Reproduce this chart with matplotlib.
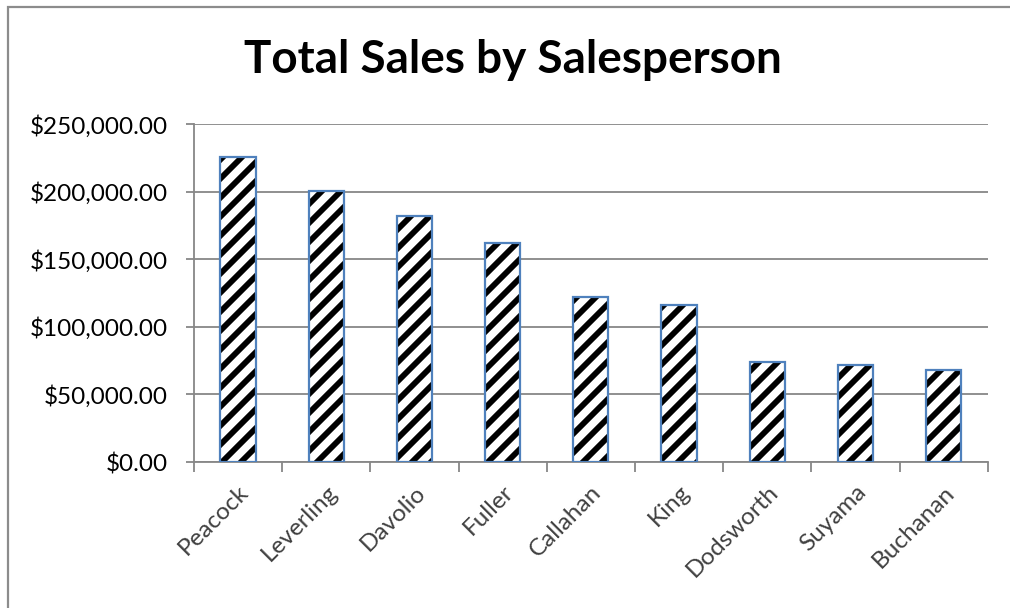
import matplotlib
matplotlib.use("Agg")
import matplotlib.pyplot as plt
from matplotlib.patches import Rectangle
from matplotlib.ticker import FuncFormatter, FixedLocator
import numpy as np

salespeople = ["Peacock", "Leverling", "Davolio", "Fuller", "Callahan",
               "King", "Dodsworth", "Suyama", "Buchanan"]
total_sales = [225500, 200500, 182200, 161800, 122300,
               116100, 74200, 71700, 67800]

GRID = "#878787"
BAR_EDGE = "#4F81BD"

# the hatch spacing follows the dpi, so sizes are given for 100 dpi and scaled
DPI = 114
S = 100 / DPI

plt.rcParams["font.family"] = ["Lato", "DejaVu Sans"]
plt.rcParams["hatch.linewidth"] = 4.2 * S

fig = plt.figure(figsize=(1010 / DPI, 608 / DPI), dpi=DPI)
ax = fig.add_axes([0.192, 0.240, 0.786, 0.556])

x = np.arange(len(salespeople))
# stripes first, then the blue outline on top
ax.bar(x, total_sales, width=0.4, color="white", edgecolor="black",
       hatch="//", linewidth=0, zorder=3)
ax.bar(x, total_sales, width=0.4, facecolor="none", edgecolor=BAR_EDGE,
       linewidth=1.6 * S, zorder=4)

ax.set_xlim(-0.5, len(salespeople) - 0.5)
ax.set_ylim(0, 250000)
ax.set_yticks(np.arange(0, 250001, 50000))
ax.yaxis.set_major_formatter(FuncFormatter(lambda v, _: f"${v:,.2f}"))
ax.grid(axis="y", color=GRID, linewidth=1.3 * S, zorder=0)

ax.set_xticks(x)
ax.set_xticklabels(salespeople, rotation=45, ha="right",
                   rotation_mode="anchor", color="#404040", fontsize=17.5 * S)
ax.xaxis.set_minor_locator(FixedLocator(np.arange(-0.5, len(salespeople), 1.0)))
ax.tick_params(axis="x", which="major", length=0, pad=14 * S)
ax.tick_params(axis="x", which="minor", length=7 * S, width=1.3 * S, color=GRID)
ax.tick_params(axis="y", length=6 * S, width=1.3 * S, color=GRID,
               labelsize=17.5 * S, pad=13 * S, labelcolor="black")

for side in ("top", "right"):
    ax.spines[side].set_visible(False)
for side in ("left", "bottom"):
    ax.spines[side].set_color(GRID)
    ax.spines[side].set_linewidth(1.3 * S)

fig.text(0.508, 0.902, "Total Sales by Salesperson", ha="center",
         va="center", fontsize=33 * S, fontweight="bold")

# chart area frame
fig.add_artist(Rectangle((8 / 1010, -0.05), 1.1, 1 - 7 / 608 + 0.05,
                         transform=fig.transFigure, fill=False,
                         edgecolor="#8c8c8c", linewidth=1.6 * S))

fig.savefig("out.png", dpi=DPI)
